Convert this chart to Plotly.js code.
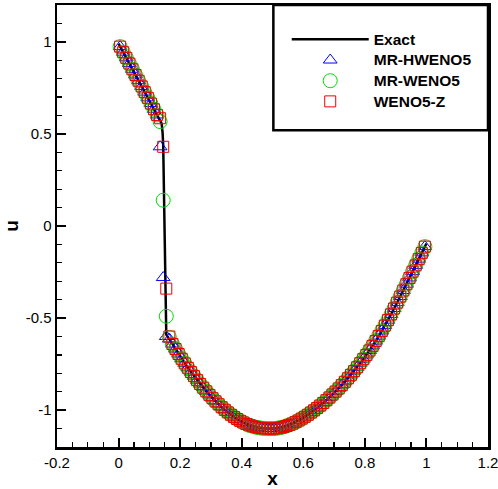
<!DOCTYPE html>
<html>
<head>
<meta charset="utf-8">
<script src="https://cdn.plot.ly/plotly-3.0.1.min.js"></script>
<style>
  html, body { margin: 0; padding: 0; background: #fff; }
  #chart { width: 498px; height: 489px; }
</style>
</head>
<body>
<div id="chart"></div>
<script>
// cell centres of the 100-cell grid on [0, 1]
const xGrid = [
  0.005,0.015,0.025,0.035,0.045,0.055,0.065,0.075,0.085,0.095,
  0.105,0.115,0.125,0.135,0.145,0.155,0.165,0.175,0.185,0.195,
  0.205,0.215,0.225,0.235,0.245,0.255,0.265,0.275,0.285,0.295,
  0.305,0.315,0.325,0.335,0.345,0.355,0.365,0.375,0.385,0.395,
  0.405,0.415,0.425,0.435,0.445,0.455,0.465,0.475,0.485,0.495,
  0.505,0.515,0.525,0.535,0.545,0.555,0.565,0.575,0.585,0.595,
  0.605,0.615,0.625,0.635,0.645,0.655,0.665,0.675,0.685,0.695,
  0.705,0.715,0.725,0.735,0.745,0.755,0.765,0.775,0.785,0.795,
  0.805,0.815,0.825,0.835,0.845,0.855,0.865,0.875,0.885,0.895,
  0.905,0.915,0.925,0.935,0.945,0.955,0.965,0.975,0.985,0.995
];

// reference solution sampled at the cell centres
const uExact = [
  0.974,0.944,0.913,0.882,0.851,0.820,0.789,0.758,0.727,0.696,
  0.665,0.634,0.603,0.572,0.440,-0.590,-0.614,-0.641,-0.668,-0.695,
  -0.721,-0.746,-0.770,-0.793,-0.815,-0.837,-0.858,-0.878,-0.898,-0.917,
  -0.935,-0.952,-0.968,-0.984,-0.998,-1.012,-1.025,-1.037,-1.048,-1.058,
  -1.067,-1.075,-1.082,-1.087,-1.092,-1.095,-1.098,-1.099,-1.100,-1.100,
  -1.100,-1.098,-1.095,-1.091,-1.086,-1.080,-1.073,-1.065,-1.056,-1.046,
  -1.036,-1.025,-1.013,-1.001,-0.988,-0.975,-0.961,-0.946,-0.931,-0.915,
  -0.899,-0.882,-0.864,-0.846,-0.827,-0.808,-0.788,-0.767,-0.745,-0.723,
  -0.700,-0.676,-0.651,-0.625,-0.598,-0.570,-0.541,-0.511,-0.480,-0.448,
  -0.416,-0.383,-0.350,-0.316,-0.282,-0.248,-0.214,-0.180,-0.146,-0.112
];

// extra reference points: domain ends and the steep shock front
const xExactExtra = [0.000, 0.140, 0.143, 0.150, 0.154, 1.000];
const uExactExtra = [0.990, 0.556, 0.505, -0.080, -0.565, -0.095];

const uHWENO = [
  0.974,0.944,0.913,0.882,0.851,0.820,0.789,0.758,0.727,0.696,
  0.665,0.634,0.603,0.430,-0.280,-0.600,-0.614,-0.641,-0.668,-0.695,
  -0.721,-0.746,-0.770,-0.793,-0.815,-0.837,-0.858,-0.878,-0.898,-0.917,
  -0.935,-0.952,-0.968,-0.984,-0.998,-1.012,-1.025,-1.037,-1.048,-1.058,
  -1.067,-1.075,-1.082,-1.087,-1.092,-1.095,-1.098,-1.099,-1.100,-1.100,
  -1.100,-1.098,-1.095,-1.091,-1.086,-1.080,-1.073,-1.065,-1.056,-1.046,
  -1.036,-1.025,-1.013,-1.001,-0.988,-0.975,-0.961,-0.946,-0.931,-0.915,
  -0.899,-0.882,-0.864,-0.846,-0.827,-0.808,-0.788,-0.767,-0.745,-0.723,
  -0.700,-0.676,-0.651,-0.625,-0.598,-0.570,-0.541,-0.511,-0.480,-0.448,
  -0.416,-0.383,-0.350,-0.316,-0.282,-0.248,-0.214,-0.180,-0.146,-0.112
];

const uWENO = [
  0.974,0.944,0.913,0.882,0.851,0.820,0.789,0.758,0.727,0.696,
  0.665,0.634,0.603,0.567,0.140,-0.490,-0.605,-0.641,-0.668,-0.695,
  -0.721,-0.746,-0.770,-0.793,-0.815,-0.837,-0.858,-0.878,-0.898,-0.917,
  -0.935,-0.952,-0.968,-0.984,-0.998,-1.012,-1.025,-1.037,-1.048,-1.058,
  -1.067,-1.075,-1.082,-1.087,-1.092,-1.095,-1.098,-1.099,-1.100,-1.100,
  -1.100,-1.098,-1.095,-1.091,-1.086,-1.080,-1.073,-1.065,-1.056,-1.046,
  -1.036,-1.025,-1.013,-1.001,-0.988,-0.975,-0.961,-0.946,-0.931,-0.915,
  -0.899,-0.882,-0.864,-0.846,-0.827,-0.808,-0.788,-0.767,-0.745,-0.723,
  -0.700,-0.676,-0.651,-0.625,-0.598,-0.570,-0.541,-0.511,-0.480,-0.448,
  -0.416,-0.383,-0.350,-0.316,-0.282,-0.248,-0.214,-0.180,-0.146,-0.112
];

const uWENOZ = [
  0.974,0.944,0.913,0.882,0.851,0.820,0.789,0.758,0.727,0.696,
  0.665,0.634,0.603,0.585,0.430,-0.340,-0.600,-0.641,-0.668,-0.695,
  -0.721,-0.746,-0.770,-0.793,-0.815,-0.837,-0.858,-0.878,-0.898,-0.917,
  -0.935,-0.952,-0.968,-0.984,-0.998,-1.012,-1.025,-1.037,-1.048,-1.058,
  -1.067,-1.075,-1.082,-1.087,-1.092,-1.095,-1.098,-1.099,-1.100,-1.100,
  -1.100,-1.098,-1.095,-1.091,-1.086,-1.080,-1.073,-1.065,-1.056,-1.046,
  -1.036,-1.025,-1.013,-1.001,-0.988,-0.975,-0.961,-0.946,-0.931,-0.915,
  -0.899,-0.882,-0.864,-0.846,-0.827,-0.808,-0.788,-0.767,-0.745,-0.723,
  -0.700,-0.676,-0.651,-0.625,-0.598,-0.570,-0.541,-0.511,-0.480,-0.448,
  -0.416,-0.383,-0.350,-0.316,-0.282,-0.248,-0.214,-0.180,-0.146,-0.112
];

const seriesNames = ['Exact', 'MR-HWENO5', 'MR-WENO5', 'WENO5-Z'];
const xTickVals = [-0.2, 0, 0.2, 0.4, 0.6, 0.8, 1, 1.2];
const xTickText = ['-0.2', '0', '0.2', '0.4', '0.6', '0.8', '1', '1.2'];
const yTickVals = [-1, -0.5, 0, 0.5, 1];
const yTickText = ['-1', '-0.5', '0', '0.5', '1'];

// merge grid samples and shock points into one ordered polyline
const exactPts = xGrid.map((x, i) => [x, uExact[i]])
  .concat(xExactExtra.map((x, i) => [x, uExactExtra[i]]))
  .sort((a, b) => a[0] - b[0]);

const FONT = 'Liberation Sans, Arial, Helvetica, sans-serif';
// legend labels are drawn a little larger than the row pitch implies
const legendLabel = name => '<span style="font-size:15.5px">' + name + '</span>';

const traces = [
  {
    x: exactPts.map(p => p[0]), y: exactPts.map(p => p[1]),
    name: legendLabel(seriesNames[0]), type: 'scatter', mode: 'lines',
    line: { color: '#000000', width: 2.5 }
  },
  {
    x: xGrid, y: uHWENO, name: legendLabel(seriesNames[1]), type: 'scatter', mode: 'markers',
    marker: { symbol: 'triangle-up-open', size: 12, color: '#0000ff',
              line: { color: '#0000ff', width: 1 } }
  },
  {
    x: xGrid, y: uWENO, name: legendLabel(seriesNames[2]), type: 'scatter', mode: 'markers',
    marker: { symbol: 'circle-open', size: 14, color: '#00dd00',
              line: { color: '#00dd00', width: 1 } }
  },
  {
    x: xGrid, y: uWENOZ, name: legendLabel(seriesNames[3]), type: 'scatter', mode: 'markers',
    marker: { symbol: 'square-open', size: 11, color: '#ee0000',
              line: { color: '#ee0000', width: 1 } }
  }
];

const axisCommon = {
  showline: true, linecolor: '#000', linewidth: 2.5, mirror: true,
  showgrid: false, zeroline: false,
  ticks: 'inside', ticklen: 9, tickwidth: 2, tickcolor: '#000',
  tickmode: 'array', ticklabeloverflow: 'allow',
  tickfont: { family: FONT, size: 15, color: '#000' }
};

const layout = {
  width: 498, height: 489,
  margin: { l: 57, r: 10, t: 5, b: 42 },
  paper_bgcolor: '#fff', plot_bgcolor: '#fff',
  showlegend: true,
  xaxis: Object.assign({}, axisCommon, {
    range: [-0.2, 1.2], tickvals: xTickVals, ticktext: xTickText,
    minor: { dtick: 0.05, tick0: 0, ticks: 'inside', ticklen: 5, tickwidth: 1.2, tickcolor: '#000' },
    title: { text: 'x', font: { family: FONT, size: 19, color: '#000', weight: 'bold' }, standoff: 4 }
  }),
  yaxis: Object.assign({}, axisCommon, {
    range: [-1.2, 1.2], tickvals: yTickVals, ticktext: yTickText,
    minor: { dtick: 0.1, tick0: 0, ticks: 'inside', ticklen: 5, tickwidth: 1.2, tickcolor: '#000' },
    title: { text: 'u', font: { family: FONT, size: 19, color: '#000', weight: 'bold' }, standoff: 2 }
  }),
  legend: {
    x: 0.533, y: 0.957, xanchor: 'left', yanchor: 'top',
    bgcolor: 'rgba(0,0,0,0)', borderwidth: 0,
    itemwidth: 77, tracegroupgap: 0,
    font: { family: FONT, size: 13.6, color: '#000', weight: 'bold' }
  },
  shapes: [{
    type: 'rect', xref: 'paper', yref: 'paper',
    x0: 0.502, x1: 1, y0: 0.7165, y1: 1,
    line: { color: '#000', width: 2.5 }, fillcolor: '#fff', layer: 'above'
  }]
};

Plotly.newPlot('chart', traces, layout, { displayModeBar: false, staticPlot: true });
</script>
</body>
</html>
